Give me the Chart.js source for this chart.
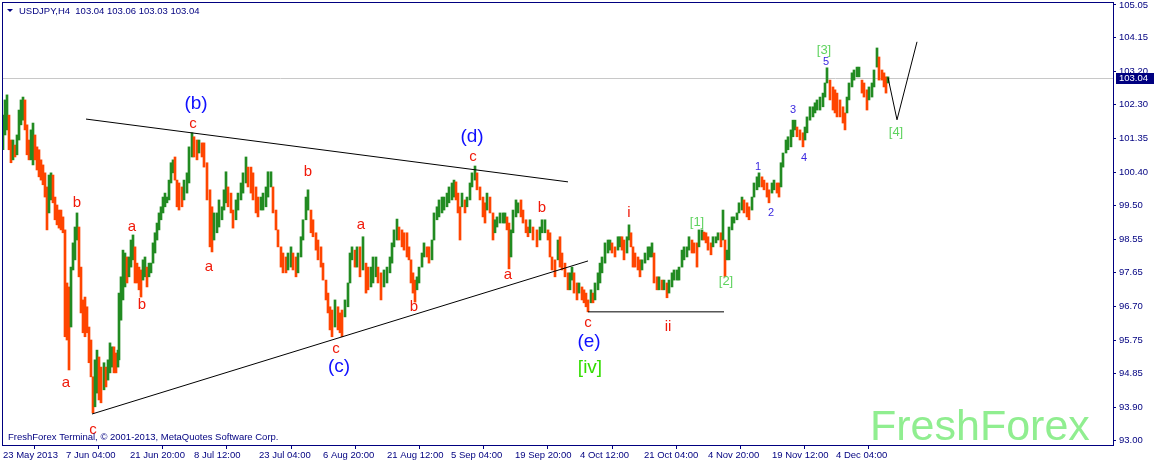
<!DOCTYPE html>
<html>
<head>
<meta charset="utf-8">
<title>USDJPY H4</title>
<script src="https://cdn.jsdelivr.net/npm/chart.js@4.4.1/dist/chart.umd.min.js"></script>
<style>
  html, body { margin: 0; padding: 0; background: #fff; }
  #wrap { width: 1154px; height: 463px; }
</style>
</head>
<body>
<div id="wrap"><canvas id="chart" width="1154" height="463"></canvas></div>
<script>
// H4 price bars, sampled from the chart: bar number from the left edge, high, low
var barTime = [
  0,2,4,6,8,10,12,14,16,18,
  20,22,24,26,28,30,32,34,36,38,
  40,42,44,46,48,50,52,54,56,58,
  60,62,64,66,68,70,72,74,76,78,
  80,82,84,86,88,90,92,94,96,98,
  101,103,105,107,109,111,113,115,116,118,
  120,122,124,126,128,130,132,134,136,138,
  140,142,144,146,148,150,152,154,156,158,
  160,162,164,166,168,170,172,174,176,179,
  181,184,186,189,191,194,196,199,201,204,
  207,209,211,214,216,219,221,223,225,228,
  230,233,235,238,240,243,245,248,250,253,
  255,258,260,263,265,268,270,273,275,278,
  280,283,285,288,290,293,295,298,300,303,
  305,308,310,313,315,318,320,323,325,327,
  329,332,335,337,339,342,345,347,349,352,
  354,357,360,363,365,368,370,373,375,378,
  381,384,387,389,391,394,396,399,401,404,
  406,408,410,412,414,416,419,421,424,426,
  429,431,434,436,439,441,444,446,449,451,
  453,455,457,459,462,464,467,469,472,474,
  477,480,482,484,487,490,492,494,497,500,
  502,504,506,508,510,513,515,518,520,523,
  525,527,530,534,537,539,542,545,547,549,
  552,555,557,559,562,565,567,569,571,574,
  576,579,581,583,585,588,590,592,595,597,
  599,602,605,607,609,612,615,617,619,621,
  624,626,628,630,632,635,637,639,642,645,
  647,649,651,654,656,659,661,664,666,669,
  671,674,676,679,681,684,686,689,691,694,
  696,699,701,703,705,708,710,713,715,718,
  720,722,724,726,729,731,734,736,739,741,
  744,746,749,751,754,756,759,761,764,766,
  769,771,774,776,778,780,783,785,788,790,
  792,794,797,800,802,804,807,810,812,814,
  817,820,822,824,827,830,832,834,837,840,
  842,844,846,849,851,854,856,859,861,864,
  866,869,871,874,876,879,881,883,885
];
var barHigh = [
  102.00,102.42,102.56,102.00,101.31,101.31,101.17,101.45,102.14,102.42,
  102.50,102.42,101.73,101.31,101.59,101.78,101.45,101.12,101.04,100.76,
  100.62,100.40,100.01,100.34,100.40,100.34,99.73,99.51,99.37,99.37,
  99.18,98.82,97.35,97.24,97.79,98.46,98.90,99.29,98.90,97.79,
  96.88,96.96,96.69,96.13,95.77,94.75,95.22,95.49,95.30,95.02,
  95.14,95.02,95.22,95.69,95.58,95.58,95.41,95.49,97.07,97.52,
  98.26,98.18,98.07,98.07,98.54,98.68,98.35,97.90,97.79,97.71,
  97.99,98.07,97.79,97.90,97.90,98.46,98.74,99.01,99.29,99.46,
  99.73,99.84,99.73,100.20,100.68,100.76,100.84,100.20,100.12,100.01,
  100.20,100.40,101.12,101.51,101.40,101.31,101.31,101.23,101.23,100.68,
  99.93,99.46,99.29,99.29,99.65,99.46,99.93,100.43,100.01,99.84,
  99.37,99.65,99.84,100.12,100.40,100.84,100.56,100.56,100.40,100.01,
  99.73,99.73,99.84,100.01,100.43,100.43,100.01,99.37,98.82,98.35,
  98.18,98.07,98.18,98.35,98.18,98.07,98.18,98.63,99.10,99.73,
  99.93,99.37,99.10,98.74,98.54,98.35,97.90,97.43,97.07,96.69,
  96.60,96.88,96.69,96.52,96.60,96.88,97.35,98.18,98.35,98.26,
  98.35,98.35,98.63,97.90,97.79,97.79,98.07,98.07,97.79,97.63,
  97.71,97.79,98.07,98.46,98.82,99.12,98.90,98.82,98.74,98.74,
  98.35,97.99,97.63,97.43,97.52,97.79,98.18,98.46,98.35,98.35,
  98.54,99.29,99.46,99.65,99.73,99.73,99.84,100.01,100.12,100.20,
  100.15,99.84,99.46,99.84,99.65,99.73,100.12,100.40,100.59,100.40,
  100.01,99.73,99.57,99.84,99.73,99.29,99.10,99.18,99.29,99.29,
  99.29,99.18,99.01,98.82,99.37,99.65,99.57,99.65,99.37,99.10,
  98.90,99.10,98.90,98.82,98.90,99.10,99.10,98.82,98.74,98.07,
  97.99,98.54,98.63,98.18,97.90,97.63,97.63,97.79,97.63,97.35,
  97.35,97.24,97.16,97.07,96.88,97.16,97.07,97.35,97.63,97.90,
  98.07,98.46,98.54,98.54,98.46,98.35,98.63,98.63,98.63,98.54,
  98.63,98.96,98.74,98.35,98.18,98.07,97.99,97.99,98.18,98.35,
  98.35,98.46,98.18,97.52,97.52,97.43,97.43,97.35,97.43,97.63,
  97.71,97.71,97.79,98.26,98.35,98.35,98.63,98.54,98.46,98.46,
  98.82,98.82,98.76,98.74,98.63,98.46,98.63,98.63,98.74,98.74,
  99.37,98.54,98.26,98.90,99.18,99.18,99.29,99.57,99.73,99.65,
  99.57,99.46,99.73,100.12,100.29,100.40,100.29,100.20,100.12,99.93,
  100.12,100.20,100.12,100.12,100.68,100.95,101.31,101.40,101.59,101.86,
  101.86,101.67,101.59,101.51,101.67,101.95,102.23,102.23,102.34,102.42,
  102.50,102.61,102.89,103.31,102.97,102.78,102.70,102.61,102.42,102.23,
  102.06,102.50,102.89,103.17,103.25,103.33,103.33,102.97,102.89,102.70,
  102.78,102.89,103.25,103.86,103.61,103.25,103.17,103.06,103.06
];
var barLow = [
  101.04,101.45,101.59,101.04,100.68,100.76,100.84,100.90,101.31,101.73,
  101.86,101.59,100.90,100.76,100.76,100.62,100.76,100.48,100.29,100.20,
  100.07,99.73,98.82,99.29,99.65,99.57,99.10,98.96,98.87,98.82,
  98.74,95.86,95.77,94.94,96.13,97.71,97.99,98.54,97.52,96.52,
  95.97,95.86,95.97,95.14,94.75,93.75,93.92,94.30,94.11,94.03,
  94.39,94.47,94.66,94.86,95.02,94.86,94.86,95.02,95.22,96.32,
  96.88,97.24,97.35,97.52,97.79,97.99,97.35,97.35,97.16,96.96,
  97.43,97.52,97.24,97.52,97.63,97.90,98.18,98.54,98.82,99.10,
  99.29,99.46,99.57,99.65,100.12,100.40,100.20,99.46,99.37,99.46,
  99.65,99.84,100.12,100.84,100.84,100.76,100.95,100.84,100.56,99.65,
  98.35,98.21,98.54,98.74,98.90,99.10,99.37,99.57,99.46,99.29,
  98.87,99.10,99.37,99.65,99.84,100.12,100.01,99.84,99.65,99.29,
  99.18,99.37,99.37,99.46,99.73,100.01,99.29,98.82,98.35,97.79,
  97.63,97.63,97.71,97.79,97.71,97.52,97.63,98.07,98.54,99.10,
  99.37,98.74,98.63,98.26,97.99,97.79,97.43,96.88,96.52,96.05,
  95.86,96.13,96.05,95.97,95.86,96.41,96.69,97.35,97.99,97.79,
  97.79,97.52,97.71,97.07,97.16,97.24,97.35,97.52,97.35,96.88,
  97.24,97.35,97.63,97.90,98.35,98.54,98.54,98.35,98.26,98.07,
  97.99,97.35,97.07,96.82,97.16,97.35,97.79,98.07,98.07,97.90,
  97.99,98.54,99.10,99.18,99.29,99.37,99.46,99.57,99.65,99.73,
  99.65,99.29,98.54,99.46,99.29,99.46,99.65,100.01,100.20,99.93,
  99.65,99.18,99.01,99.37,99.29,98.54,98.74,98.90,99.01,99.01,
  99.01,98.82,97.74,98.07,98.74,99.18,99.29,99.18,99.01,98.74,
  98.63,98.74,98.54,98.35,98.54,98.74,98.74,98.54,98.07,97.71,
  97.52,97.99,97.79,97.71,97.52,97.16,97.16,97.43,97.07,96.88,
  97.07,96.88,96.80,96.69,96.55,96.80,96.80,96.88,97.16,97.35,
  97.63,97.90,98.18,98.26,98.18,98.07,98.26,98.35,98.26,97.99,
  98.18,98.54,98.35,97.79,97.79,97.71,97.52,97.71,97.90,97.99,
  98.07,98.07,97.35,97.16,97.16,97.16,97.16,96.94,97.07,97.24,
  97.43,97.43,97.43,97.79,97.99,98.07,98.26,98.18,98.18,97.79,
  98.35,98.54,98.54,98.46,98.26,98.13,98.35,98.46,98.54,98.35,
  98.54,97.52,97.99,97.99,98.82,99.01,99.10,99.29,99.37,99.29,
  99.18,99.10,99.37,99.73,99.93,100.01,100.01,99.93,99.73,99.57,
  99.84,99.93,99.84,99.73,100.01,100.56,100.95,101.04,101.12,101.40,
  101.59,101.40,101.31,101.12,101.31,101.51,101.86,101.95,102.06,102.14,
  102.14,102.23,102.50,102.89,102.42,102.14,102.06,101.95,101.95,101.78,
  101.59,102.06,102.42,102.78,102.97,103.06,103.06,102.61,102.50,102.14,
  102.42,102.50,102.78,103.33,102.97,102.97,102.78,102.61,102.89
];

var yTicks = [93.00, 93.90, 94.85, 95.75, 96.70, 97.65, 98.55, 99.50, 100.40, 101.35, 102.30, 103.20, 104.15, 105.05];
var xTickBars = [0, 63, 127, 191, 256, 320, 384, 448, 512, 577, 641, 705, 769, 833];
var xTickLabels = ['23 May 2013', '7 Jun 04:00', '21 Jun 20:00', '8 Jul 12:00', '23 Jul 04:00', '6 Aug 20:00',
  '21 Aug 12:00', '5 Sep 04:00', '19 Sep 20:00', '4 Oct 12:00', '21 Oct 04:00', '4 Nov 20:00', '19 Nov 12:00', '4 Dec 04:00'];

var lastPrice = 103.04;
var titleText = 'USDJPY,H4  103.04 103.06 103.03 103.04';
var footText = 'FreshForex Terminal, \u00a9 2001-2013, MetaQuotes Software Corp.';

// drawn lines: [bar, price] pairs
var triangleTop = [[83, 101.89], [565, 100.15]];
var triangleBottom = [[89, 93.72], [585, 97.96]];
var supportLine = [[585, 96.55], [721, 96.55]];
var forecastLine = [[885, 103.04], [894, 101.87], [914, 104.03]];

// wave marks: text, bar, price, style
var waveLabels = [
  ['b', 74, 99.57, 'minor'], ['a', 63, 94.58, 'minor'], ['c', 90, 93.28, 'minor'],
  ['a', 129, 98.90, 'minor'], ['b', 139, 96.74, 'minor'], ['c', 190, 101.76, 'minor'],
  ['a', 206, 97.79, 'minor'], ['b', 305, 100.43, 'minor'], ['c', 333, 95.52, 'minor'],
  ['a', 358, 98.96, 'minor'], ['b', 411, 96.69, 'minor'], ['c', 470, 100.84, 'minor'],
  ['a', 505, 97.57, 'minor'], ['b', 539, 99.43, 'minor'], ['c', 585, 96.24, 'minor'],
  ['i', 626, 99.29, 'minor'], ['ii', 665, 96.13, 'minor'],
  ['(b)', 193, 102.31, 'major'], ['(c)', 336, 95.02, 'major'], ['(d)', 469, 101.40, 'major'], ['(e)', 586, 95.72, 'major'],
  ['[iv]', 587, 95.00, 'iv'],
  ['[1]', 694, 99.04, 'sq'], ['[2]', 723, 97.38, 'sq'], ['[3]', 821, 103.80, 'sq'], ['[4]', 893, 101.53, 'sq'],
  ['1', 755, 100.56, 'num'], ['2', 768, 99.29, 'num'], ['3', 790, 102.14, 'num'], ['4', 801, 100.81, 'num'], ['5', 823, 103.47, 'num']
];

var NAVY = '#000080';
var upColor = '#228b22';
var downColor = '#ff4500';
var FONT = '"Liberation Sans", Arial, sans-serif';

var labelStyles = {
  minor: { color: '#f01a0a', font: '15px ' + FONT },
  major: { color: '#1010ff', font: '19px ' + FONT },
  iv:    { color: '#33dd00', font: '19px ' + FONT },
  sq:    { color: '#5fd35f', font: '13px ' + FONT },
  num:   { color: '#3a28e0', font: '11px ' + FONT }
};

var candles = barTime.map(function (t, i) {
  return { x: t, y: [barLow[i], barHigh[i]] };
});
var candleColors = barHigh.map(function (h, i) {
  if (i === 0) return upColor;
  var mid = (h + barLow[i]) / 2;
  var prev = (barHigh[i - 1] + barLow[i - 1]) / 2;
  return mid >= prev ? upColor : downColor;
});

function toPoints(arr) {
  return arr.map(function (p) { return { x: p[0], y: p[1] }; });
}
function lineSet(arr) {
  return {
    type: 'line', data: toPoints(arr), borderColor: '#000', borderWidth: 1,
    pointRadius: 0, fill: false, tension: 0, order: 1
  };
}

var decor = {
  id: 'decor',
  beforeDatasetsDraw: function (chart) {
    var c = chart.ctx, a = chart.chartArea, ys = chart.scales.y;
    c.save();
    c.fillStyle = '#90ee90';
    c.font = '43px ' + FONT;
    c.textBaseline = 'alphabetic';
    c.textAlign = 'left';
    c.fillText('FreshForex', a.right - 243, a.bottom - 5);
    var py = Math.round(ys.getPixelForValue(lastPrice)) + 0.5;
    c.strokeStyle = '#c8c8c8';
    c.lineWidth = 1;
    c.beginPath();
    c.moveTo(a.left, py);
    c.lineTo(a.right, py);
    c.stroke();
    c.restore();
  },
  afterDatasetsDraw: function (chart) {
    var c = chart.ctx, a = chart.chartArea, xs = chart.scales.x, ys = chart.scales.y;
    c.save();
    c.textAlign = 'center';
    c.textBaseline = 'middle';
    waveLabels.forEach(function (w) {
      var st = labelStyles[w[3]];
      c.fillStyle = st.color;
      c.font = st.font;
      c.fillText(w[0], xs.getPixelForValue(w[1]), ys.getPixelForValue(w[2]));
    });
    // title with small dropdown marker
    c.fillStyle = NAVY;
    c.beginPath();
    c.moveTo(a.left + 4, a.top + 6);
    c.lineTo(a.left + 10, a.top + 6);
    c.lineTo(a.left + 7, a.top + 9);
    c.closePath();
    c.fill();
    c.textAlign = 'left';
    c.font = '9.5px ' + FONT;
    c.fillText(titleText, a.left + 16, a.top + 8);
    c.fillText(footText, a.left + 5, a.bottom - 8);
    // frame
    c.strokeStyle = NAVY;
    c.lineWidth = 1;
    c.strokeRect(a.left - 0.5, a.top - 0.5, a.right - a.left + 1, a.bottom - a.top + 1);
    c.restore();
  },
  afterDraw: function (chart) {
    var c = chart.ctx, a = chart.chartArea, ys = chart.scales.y;
    var py = ys.getPixelForValue(lastPrice);
    c.save();
    c.fillStyle = NAVY;
    c.fillRect(a.right + 3, Math.round(py) - 5, 38, 11);
    c.fillStyle = '#fff';
    c.font = '9.5px ' + FONT;
    c.textAlign = 'left';
    c.textBaseline = 'middle';
    c.fillText(lastPrice.toFixed(2), a.right + 6, Math.round(py) + 0.5);
    c.restore();
  }
};

new Chart(document.getElementById('chart'), {
  data: {
    datasets: [
      {
        type: 'bar', data: candles, backgroundColor: candleColors,
        barThickness: 2, grouped: false, borderWidth: 0, order: 2
      },
      lineSet(triangleTop),
      lineSet(triangleBottom),
      lineSet(supportLine),
      lineSet(forecastLine)
    ]
  },
  options: {
    responsive: false,
    animation: false,
    layout: { padding: { left: 3, top: 3, right: 0, bottom: 0 } },
    plugins: { legend: { display: false }, tooltip: { enabled: false }, title: { display: false } },
    scales: {
      x: {
        type: 'linear', min: 0, max: 1110, offset: false,
        grid: { display: true, drawOnChartArea: false, drawTicks: true, tickLength: 4, color: NAVY },
        border: { display: false },
        afterBuildTicks: function (ax) { ax.ticks = xTickBars.map(function (v) { return { value: v }; }); },
        afterFit: function (ax) { ax.height = 18; ax.paddingLeft = 0; ax.paddingRight = 0; },
        ticks: {
          autoSkip: false, maxRotation: 0, align: 'start', padding: 1, color: NAVY,
          font: { family: FONT, size: 9.5 },
          callback: function (v, i) { return xTickLabels[i]; }
        }
      },
      y: {
        position: 'right', min: 92.8615, max: 105.1054,
        grid: { display: true, drawOnChartArea: false, drawTicks: true, tickLength: 3, color: NAVY },
        border: { display: false },
        afterBuildTicks: function (ax) { ax.ticks = yTicks.map(function (v) { return { value: v }; }); },
        afterFit: function (ax) { ax.width = 41; ax.paddingTop = 0; ax.paddingBottom = 0; },
        ticks: {
          autoSkip: false, padding: 3, color: NAVY,
          font: { family: FONT, size: 9.5 },
          callback: function (v) { return Number(v).toFixed(2); }
        }
      }
    }
  },
  plugins: [decor]
});
</script>
</body>
</html>
